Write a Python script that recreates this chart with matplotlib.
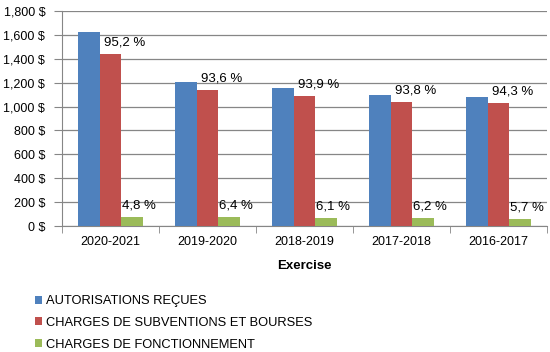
import numpy as np
import matplotlib.pyplot as plt
from matplotlib.ticker import FuncFormatter, FixedLocator

plt.rcParams['font.family'] = ['Liberation Sans', 'DejaVu Sans']

years = ['2020-2021', '2019-2020', '2018-2019', '2017-2018', '2016-2017']
autorisations = [1625, 1206, 1156, 1097, 1080]
subventions = [1440, 1139, 1089, 1039, 1030]
fonctionnement = [75, 73, 67, 65, 59]
pct_subv = ['95,2 %', '93,6 %', '93,9 %', '93,8 %', '94,3 %']
pct_fonc = ['4,8 %', '6,4 %', '6,1 %', '6,2 %', '5,7 %']
series_names = ['AUTORISATIONS REÇUES', 'CHARGES DE SUBVENTIONS ET BOURSES',
                'CHARGES DE FONCTIONNEMENT']
colors = ['#4F81BD', '#C0504D', '#9BBB59']

fig = plt.figure(figsize=(5.5, 3.52), dpi=100)
ax = fig.add_axes([62 / 550, 1 - 226 / 352, 485 / 550, 215 / 352])

x = np.arange(len(years))
w = 0.222
bars = []
for i, vals in enumerate([autorisations, subventions, fonctionnement]):
    b = ax.bar(x + (i - 1) * w, vals, w, color=colors[i], label=series_names[i], zorder=3)
    bars.append(b)

# percentage labels (shifted right of the bar like in the original)
for i in range(len(years)):
    ax.text(x[i] + 0.15, subventions[i] + 45, pct_subv[i], ha='center', va='bottom',
            fontsize=9.5, zorder=4)
    ax.text(x[i] + w + 0.07, fonctionnement[i] + 45, pct_fonc[i], ha='center', va='bottom',
            fontsize=9.5, zorder=4)

ax.set_xlim(-0.5, len(years) - 0.5)
ax.set_ylim(0, 1800)
ax.set_yticks(np.arange(0, 1801, 200))
ax.yaxis.set_major_formatter(FuncFormatter(lambda v, p: '{:,.0f} $'.format(v)))
ax.set_xticks(x)
ax.set_xticklabels(years)
ax.xaxis.set_minor_locator(FixedLocator(np.arange(-0.5, len(years), 1.0)))
ax.tick_params(axis='x', which='major', length=0, pad=7, labelsize=9)
ax.tick_params(axis='x', which='minor', length=5, color='#868686')
ax.tick_params(axis='y', length=6, color='#868686', labelsize=9, pad=6)

ax.grid(axis='y', color='#868686', linewidth=0.9, zorder=0)
for s in ['top', 'right']:
    ax.spines[s].set_visible(False)
ax.spines['left'].set_color('#868686')
ax.spines['bottom'].set_color('#868686')

ax.set_xlabel('Exercise', fontweight='bold', fontsize=9.5, labelpad=9)

fig.legend(handles=bars, labels=series_names, loc='upper left',
           bbox_to_anchor=(30 / 550, 1 - 290 / 352), frameon=False, fontsize=9.3,
           handlelength=0.55, handleheight=0.6, handletextpad=0.3, labelspacing=0.75,
           borderaxespad=0)

fig.savefig('out.png', dpi=100)
